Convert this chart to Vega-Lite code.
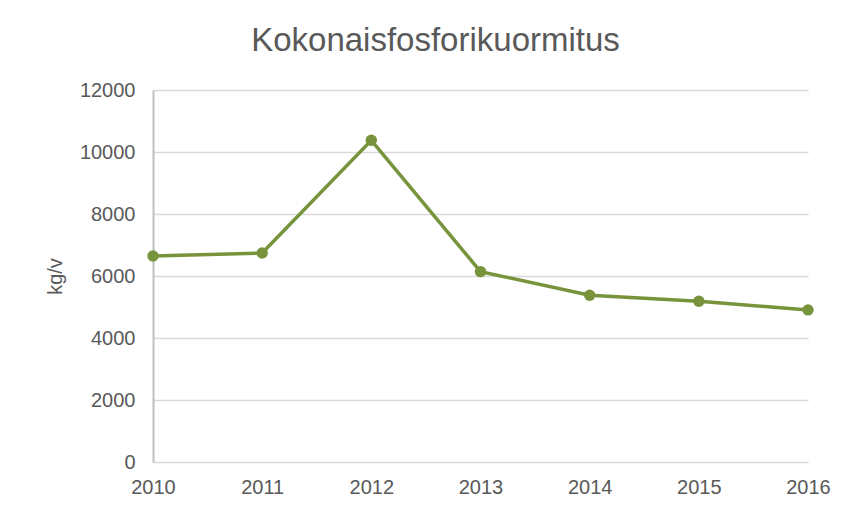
{
  "$schema": "https://vega.github.io/schema/vega-lite/v6.json",
  "width": 655,
  "height": 372,
  "autosize": {"type": "none"},
  "padding": {"left": 153, "top": 90, "right": 38, "bottom": 51},
  "background": "white",
  "title": {
    "text": "Kokonaisfosforikuormitus",
    "font": "Liberation Sans",
    "fontSize": 33,
    "fontWeight": "normal",
    "color": "#595959",
    "anchor": "middle",
    "dx": -45,
    "offset": 22
  },
  "data": {
    "values": [
      {"vuosi": "2010", "kuormitus": 6645},
      {"vuosi": "2011", "kuormitus": 6742},
      {"vuosi": "2012", "kuormitus": 10377},
      {"vuosi": "2013", "kuormitus": 6142},
      {"vuosi": "2014", "kuormitus": 5377},
      {"vuosi": "2015", "kuormitus": 5184},
      {"vuosi": "2016", "kuormitus": 4906}
    ]
  },
  "encoding": {
    "x": {
      "field": "vuosi",
      "type": "ordinal",
      "scale": {"type": "point", "padding": 0},
      "axis": {
        "title": null,
        "labelAngle": 0,
        "labelFont": "Liberation Sans",
        "labelFontSize": 20,
        "labelColor": "#595959",
        "labelPadding": 15,
        "ticks": false,
        "domain": false,
        "grid": false
      }
    },
    "y": {
      "field": "kuormitus",
      "type": "quantitative",
      "scale": {"domain": [0, 12000], "nice": false},
      "axis": {
        "title": "kg/v",
        "titleFont": "Liberation Sans",
        "titleFontSize": 20,
        "titleFontWeight": "normal",
        "titleColor": "#595959",
        "titlePadding": 14,
        "values": [0, 2000, 4000, 6000, 8000, 10000, 12000],
        "format": "d",
        "labelFont": "Liberation Sans",
        "labelFontSize": 20,
        "labelColor": "#595959",
        "labelPadding": 18,
        "ticks": false,
        "domain": true,
        "domainColor": "#BFBFBF",
        "domainWidth": 2,
        "grid": true,
        "gridColor": "#D9D9D9",
        "gridWidth": 1.5
      }
    }
  },
  "layer": [
    {
      "mark": {"type": "line", "color": "#77933C", "strokeWidth": 3.5}
    },
    {
      "mark": {"type": "point", "filled": true, "color": "#77933C", "opacity": 1, "size": 130}
    }
  ],
  "config": {
    "view": {"stroke": null}
  }
}
